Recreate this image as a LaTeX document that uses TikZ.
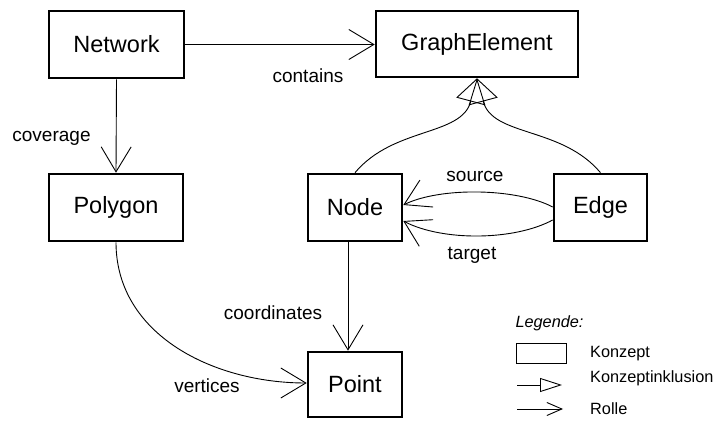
\documentclass[tikz,border=0pt]{standalone}
\usepackage{fontspec}
\setmainfont{Liberation Sans}
\usetikzlibrary{arrows.meta,calc}
\tikzset{
  role/.style={line width=0.9pt, -{Straight Barb[length=25pt,width=30pt]}},
  isa/.style={line width=0.9pt, -{Triangle[open,length=24pt,width=30pt]}}
}
\begin{document}
\begin{tikzpicture}[x=1pt,y=1pt,
  concept/.style={draw, line width=2.6pt, inner sep=0pt, font=\fontsize{23.5}{28}\selectfont},
  lab/.style={inner sep=0pt, anchor=base, font=\fontsize{19}{23}\selectfont},
  leg/.style={inner sep=0pt, anchor=base west, font=\fontsize{16.3}{19}\selectfont}]
\useasboundingbox (0,0) rectangle (718,423);
% concepts
\node[concept, minimum width=135pt, minimum height=67pt] (Network) at (116.5,378.5) {Network};
\node[concept, minimum width=202pt, minimum height=66pt] (GraphElement) at (477,379) {GraphElement};
\node[concept, minimum width=134pt, minimum height=67pt] (Polygon) at (116,215.5) {Polygon};
\node[concept, minimum width=94pt, minimum height=67pt] (Node) at (355,215.5) {Node};
\node[concept, minimum width=93pt, minimum height=67pt] (Edge) at (600.5,215.5) {Edge};
\node[concept, minimum width=94pt, minimum height=65pt] (Point) at (355,38.5) {Point};
% roles
\draw[role] (Network.east) -- (GraphElement.west |- Network.east);
\draw[role] (Network.south) -- (Polygon.north);
\draw[role] ($(Node.south)+(-7,0)$) -- ($(Point.north)+(-7,0)$);
\draw[role] (Polygon.south) to[out=-90,in=180] ($(Point.west)+(0,1.5)$);
\draw[role] ($(Edge.west)+(0,0.5)$) to[bend right=27, looseness=0.7] ($(Node.east)+(0,2.5)$);
\draw[role] ($(Edge.west)+(0,-12.5)$) to[bend left=28, looseness=0.75] ($(Node.east)+(0,-13.5)$);
% inclusions
\draw[isa] (Node.north) to[out=50,in=-105] (GraphElement.south);
\draw[isa] (Edge.north) to[out=130,in=-75] (GraphElement.south);
% labels
\node[lab] (lcontains) at (308,340) {contains};
\node[lab] (lcoverage) at (51.5,281) {coverage};
\node[lab] (lcoord) at (273,103) {coordinates};
\node[lab] (lvert) at (207,30) {vertices};
\node[lab] (lsource) at (475,241) {source};
\node[lab] (ltarget) at (472,163) {target};
% legend
\node[leg, anchor=base, font=\fontsize{16.3}{19}\selectfont\itshape] (legtitle) at (549.5,95.7) {Legende:};
\node[draw, line width=1.4pt, minimum width=50pt, minimum height=20pt, inner sep=0pt] (legbox) at (541.5,69.5) {};
\node[leg] (lkonzept) at (590,65.7) {Konzept};
\coordinate (i1) at (517,38);
\coordinate (i2) at (562,38);
\draw[line width=0.9pt, -{Triangle[open,length=22pt,width=14pt]}] (i1) -- (i2);
\node[leg] (lincl) at (590,40) {Konzeptinklusion};
\coordinate (r1) at (517,14);
\coordinate (r2) at (563,14);
\draw[line width=0.9pt, -{Straight Barb[length=15pt,width=13pt]}] (r1) -- (r2);
\node[leg] (lrolle) at (590,8) {Rolle};
\end{tikzpicture}
\end{document}
